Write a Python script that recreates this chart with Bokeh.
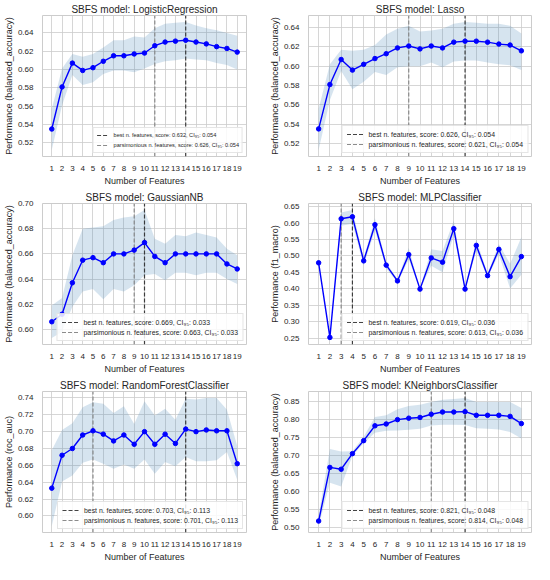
from bokeh.plotting import figure
from bokeh.layouts import gridplot
from bokeh.models import Range1d, FixedTicker, NumeralTickFormatter, Legend, LegendItem
from bokeh.embed import file_html
from bokeh.resources import INLINE

n_features = list(range(1, 20))
xtick_labels = n_features

# ---- LogisticRegression ----
lr_score = [0.535, 0.581, 0.607, 0.599, 0.602, 0.609, 0.615, 0.615, 0.617, 0.618,
            0.626, 0.630, 0.631, 0.632, 0.630, 0.628, 0.625, 0.623, 0.619]
lr_upper = [0.557, 0.601, 0.617, 0.614, 0.617, 0.624, 0.632, 0.632, 0.636, 0.635,
            0.645, 0.650, 0.651, 0.652, 0.648, 0.645, 0.643, 0.640, 0.637]
lr_lower = [0.512, 0.561, 0.594, 0.583, 0.586, 0.595, 0.599, 0.599, 0.597, 0.601,
            0.606, 0.609, 0.610, 0.612, 0.611, 0.610, 0.607, 0.605, 0.600]
lr_yticks = [0.52, 0.54, 0.56, 0.58, 0.60, 0.62, 0.64]

# ---- Lasso ----
lasso_score = [0.535, 0.581, 0.607, 0.596, 0.602, 0.608, 0.613, 0.619, 0.621, 0.618,
               0.621, 0.619, 0.625, 0.626, 0.626, 0.625, 0.623, 0.622, 0.616]
lasso_upper = [0.556, 0.602, 0.617, 0.616, 0.617, 0.622, 0.633, 0.639, 0.642, 0.636,
               0.637, 0.639, 0.644, 0.646, 0.645, 0.644, 0.644, 0.642, 0.634]
lasso_lower = [0.513, 0.565, 0.595, 0.576, 0.584, 0.594, 0.591, 0.599, 0.600, 0.600,
               0.604, 0.599, 0.605, 0.606, 0.606, 0.604, 0.602, 0.601, 0.596]
lasso_yticks = [0.52, 0.54, 0.56, 0.58, 0.60, 0.62, 0.64]

# ---- GaussianNB ----
gnb_score = [0.606, 0.612, 0.637, 0.655, 0.657, 0.653, 0.660, 0.660, 0.663, 0.669,
             0.658, 0.653, 0.660, 0.660, 0.660, 0.660, 0.660, 0.652, 0.648]
gnb_upper = [0.619, 0.625, 0.659, 0.680, 0.681, 0.682, 0.687, 0.689, 0.690, 0.695,
             0.672, 0.668, 0.675, 0.674, 0.677, 0.675, 0.673, 0.664, 0.659]
gnb_lower = [0.593, 0.598, 0.618, 0.630, 0.632, 0.624, 0.632, 0.630, 0.635, 0.643,
             0.644, 0.639, 0.645, 0.645, 0.643, 0.645, 0.645, 0.640, 0.636]
gnb_yticks = [0.60, 0.62, 0.64, 0.66, 0.68, 0.70]

# ---- MLPClassifier ----
mlp_score = [0.479, 0.252, 0.613, 0.619, 0.485, 0.595, 0.472, 0.424, 0.504, 0.399,
             0.494, 0.481, 0.583, 0.399, 0.532, 0.440, 0.520, 0.437, 0.498]
mlp_upper = [0.481, 0.254, 0.632, 0.640, 0.494, 0.615, 0.480, 0.429, 0.524, 0.401,
             0.520, 0.515, 0.607, 0.401, 0.550, 0.446, 0.536, 0.476, 0.557]
mlp_lower = [0.477, 0.250, 0.592, 0.598, 0.471, 0.578, 0.462, 0.419, 0.489, 0.397,
             0.470, 0.450, 0.563, 0.397, 0.515, 0.434, 0.505, 0.401, 0.443]
mlp_yticks = [0.25, 0.30, 0.35, 0.40, 0.45, 0.50, 0.55, 0.60, 0.65]

# ---- RandomForestClassifier ----
rf_score = [0.633, 0.672, 0.680, 0.696, 0.701, 0.697, 0.689, 0.696, 0.685, 0.700,
            0.685, 0.697, 0.686, 0.703, 0.700, 0.702, 0.701, 0.701, 0.662]
rf_upper = [0.678, 0.702, 0.710, 0.729, 0.735, 0.733, 0.722, 0.730, 0.709, 0.736,
            0.719, 0.727, 0.714, 0.739, 0.738, 0.740, 0.740, 0.726, 0.683]
rf_lower = [0.588, 0.641, 0.648, 0.663, 0.667, 0.662, 0.656, 0.661, 0.656, 0.667,
            0.650, 0.664, 0.659, 0.670, 0.665, 0.665, 0.666, 0.676, 0.643]
rf_yticks = [0.60, 0.62, 0.64, 0.66, 0.68, 0.70, 0.72, 0.74]

# ---- KNeighborsClassifier ----
knn_score = [0.519, 0.667, 0.662, 0.705, 0.741, 0.782, 0.787, 0.799, 0.803, 0.805,
             0.814, 0.820, 0.820, 0.821, 0.811, 0.811, 0.811, 0.808, 0.788]
knn_upper = [0.535, 0.718, 0.711, 0.712, 0.752, 0.806, 0.811, 0.828, 0.837, 0.840,
             0.848, 0.854, 0.856, 0.859, 0.848, 0.848, 0.848, 0.848, 0.831]
knn_lower = [0.505, 0.625, 0.614, 0.699, 0.734, 0.763, 0.768, 0.769, 0.771, 0.774,
             0.783, 0.785, 0.785, 0.784, 0.775, 0.774, 0.772, 0.765, 0.747]
knn_yticks = [0.50, 0.55, 0.60, 0.65, 0.70, 0.75, 0.80, 0.85]

models = ["LogisticRegression", "Lasso", "GaussianNB", "MLPClassifier",
          "RandomForestClassifier", "KNeighborsClassifier"]
metrics = ["balanced_accuracy", "balanced_accuracy", "balanced_accuracy", "f1_macro",
           "roc_auc", "balanced_accuracy"]
best_n = [14, 14, 10, 4, 14, 14]
pars_n = [11, 9, 9, 3, 5, 11]
ci95 = [0.054, 0.054, 0.033, 0.036, 0.113, 0.048]

FONT = "Liberation Sans"
TXT = "#262626"
GRID = "#cccccc"


def make(i, score, upper, lower, yticks):
    left = (i % 2 == 0)
    lo, hi = min(lower), max(upper)
    pad = (hi - lo) * 0.05
    y0, y1 = lo - pad, hi + pad
    xpad = (max(n_features) - min(n_features)) * 0.05
    p = figure(width=262 if left else 272, height=188,
               output_backend="svg", toolbar_location=None,
               x_range=Range1d(min(n_features) - xpad, max(n_features) + xpad),
               y_range=Range1d(y0, y1),
               min_border_left=33 if left else 46,
               min_border_right=16 if left else 3,
               min_border_top=14, min_border_bottom=24)
    p.title.text = "SBFS model: " + models[i]
    p.title.align = "center"
    p.title.text_font = FONT
    p.title.text_font_size = "10px"
    p.title.text_font_style = "normal"
    p.title.text_color = TXT
    p.title.standoff = 2
    p.outline_line_color = GRID
    p.background_fill_color = "white"
    p.border_fill_color = "white"
    for g in (p.xgrid[0], p.ygrid[0]):
        g.grid_line_color = GRID
        g.grid_line_width = 0.8
    p.xaxis.ticker = FixedTicker(ticks=xtick_labels)
    p.yaxis.ticker = FixedTicker(ticks=yticks)
    p.yaxis.formatter = NumeralTickFormatter(format="0.00")
    for ax in (p.xaxis[0], p.yaxis[0]):
        ax.axis_line_color = None
        ax.major_tick_line_color = None
        ax.minor_tick_line_color = None
        ax.major_label_text_font = FONT
        ax.major_label_text_font_size = "8px"
        ax.major_label_text_color = TXT
        ax.major_label_standoff = 3
        ax.axis_label_text_font = FONT
        ax.axis_label_text_font_size = "9px"
        ax.axis_label_text_font_style = "normal"
        ax.axis_label_text_color = TXT
        ax.axis_label_standoff = 2
    p.yaxis.axis_label_standoff = 1
    p.xaxis.axis_label = "Number of Features"
    p.yaxis.axis_label = "Performance (" + metrics[i] + ")"

    p.varea(x=n_features, y1=lower, y2=upper, fill_color="#4682b4", fill_alpha=0.22)
    rb = p.line(x=[best_n[i], best_n[i]], y=[y0, y1], line_color="#222222",
                line_alpha=0.85, line_dash="4 2", line_width=1.2)
    rp = p.line(x=[pars_n[i], pars_n[i]], y=[y0, y1], line_color="#7f7f7f",
                line_alpha=0.9, line_dash="4 2", line_width=1.2)
    p.line(x=n_features, y=score, line_color="blue", line_width=1.4)
    p.scatter(x=n_features, y=score, size=4.5, fill_color="blue", line_color="blue")

    bs = score[best_n[i] - 1]
    ps = score[pars_n[i] - 1]
    items = [
        LegendItem(label="best n. features, score: %.3f, CI\u2089\u2085: %.3f" % (bs, ci95[i]),
                   renderers=[rb]),
        LegendItem(label="parsimonious n. features, score: %.3f, CI\u2089\u2085: %.3f" % (ps, ci95[i]),
                   renderers=[rp]),
    ]
    small = (i == 0)
    leg = Legend(items=items, location="bottom_right",
                 label_text_font=FONT,
                 label_text_font_size="5.6px" if small else "6.9px",
                 label_text_color=TXT,
                 glyph_width=12 if small else 17, glyph_height=8,
                 label_height=8, label_standoff=5, spacing=2,
                 padding=3 if small else 4, margin=3,
                 border_line_color=GRID, border_line_width=0.8,
                 background_fill_color="white", background_fill_alpha=0.85)
    p.add_layout(leg)
    return p


plots = [
    make(0, lr_score, lr_upper, lr_lower, lr_yticks),
    make(1, lasso_score, lasso_upper, lasso_lower, lasso_yticks),
    make(2, gnb_score, gnb_upper, gnb_lower, gnb_yticks),
    make(3, mlp_score, mlp_upper, mlp_lower, mlp_yticks),
    make(4, rf_score, rf_upper, rf_lower, rf_yticks),
    make(5, knn_score, knn_upper, knn_lower, knn_yticks),
]

grid = gridplot([[plots[0], plots[1]], [plots[2], plots[3]], [plots[4], plots[5]]],
                toolbar_location=None)

open("out.html", "w").write(file_html(grid, INLINE))
